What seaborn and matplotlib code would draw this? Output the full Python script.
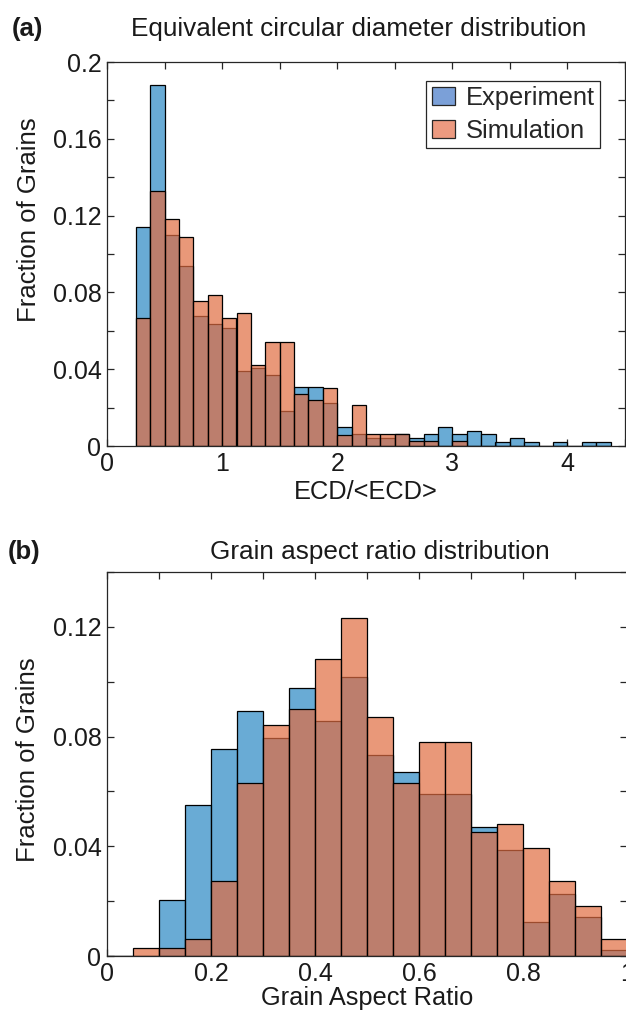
import numpy as np
import pandas as pd
import matplotlib
matplotlib.use("Agg")
import matplotlib.pyplot as plt
from matplotlib.patches import Patch
from matplotlib.ticker import MultipleLocator, FuncFormatter
import seaborn as sns

sns.set_style("ticks")
plt.rcParams["font.family"] = ["Liberation Sans", "DejaVu Sans"]

# (a) equivalent circular diameter, bins of 0.125 starting at 0.25
ecd_start = 0.25
ecd_width = 0.125
ecd_exp = [0.114, 0.188, 0.110, 0.094, 0.0676, 0.0636, 0.0613, 0.0389, 0.0406,
           0.0370, 0.0183, 0.0307, 0.0307, 0.0223, 0.0101, 0.0061, 0.0040, 0.0040,
           0.0061, 0.0040, 0.0061, 0.0101, 0.0063, 0.0080, 0.0061, 0.0021, 0.0040,
           0.0021, 0.0, 0.0021, 0.0, 0.0021, 0.0021]
ecd_sim = [0.0666, 0.1326, 0.118, 0.1086, 0.0754, 0.0786, 0.0666, 0.0693, 0.0423,
           0.0542, 0.0542, 0.0270, 0.0240, 0.0301, 0.0057, 0.0211, 0.0061, 0.0061,
           0.0061, 0.0028, 0.0028, 0.0, 0.0028, 0.0, 0.0, 0.0, 0.0,
           0.0, 0.0, 0.0, 0.0, 0.0, 0.0]

# (b) grain aspect ratio, bins of 0.05 from 0 to 1
ar_start = 0.0
ar_width = 0.05
ar_exp = [0.0, 0.0, 0.0205, 0.055, 0.0753, 0.0895, 0.0793, 0.0977, 0.0856, 0.1017,
          0.0733, 0.0672, 0.059, 0.059, 0.0469, 0.0387, 0.0124, 0.0226, 0.0144, 0.0021]
ar_sim = [0.0, 0.003, 0.003, 0.0061, 0.0272, 0.0632, 0.0843, 0.0902, 0.1083, 0.1232,
          0.0873, 0.063, 0.0781, 0.0781, 0.0451, 0.0481, 0.0393, 0.0272, 0.0182, 0.0061]

BLUE = (42 / 255, 136 / 255, 196 / 255)
ORANGE = (224 / 255, 108 / 255, 65 / 255)
SPINE = "#262626"
TEXT = "#1a1a1a"
TICK_SIZE = 18
XLABEL_SIZE = 18.3
YLABEL_SIZE = 18.5
TITLE_SIZE = 18.8


def draw_hist(ax, start, width, values, color):
    n = len(values)
    edges = start + width * np.arange(n + 1)
    df = pd.DataFrame({"center": edges[:-1] + width / 2, "frac": values})
    # bins as a plain list: seaborn compares bins == "auto" when weights are given
    sns.histplot(data=df, x="center", weights="frac", bins=edges.tolist(), ax=ax,
                 color=color, alpha=0.7, edgecolor="black", linewidth=0.9)


def style_axes(ax, xmaj, xmin, ymaj, ymin, ylab_y):
    ax.xaxis.set_major_locator(MultipleLocator(xmaj))
    ax.xaxis.set_minor_locator(MultipleLocator(xmin))
    ax.yaxis.set_major_locator(MultipleLocator(ymaj))
    ax.yaxis.set_minor_locator(MultipleLocator(ymin))
    fmt = FuncFormatter(lambda v, p: "%g" % round(v, 4))
    ax.xaxis.set_major_formatter(fmt)
    ax.yaxis.set_major_formatter(fmt)
    ax.tick_params(which="both", direction="in", top=True, right=True,
                   length=5, width=0.9, color=SPINE, labelsize=TICK_SIZE,
                   labelcolor=TEXT, pad=4)
    for s in ax.spines.values():
        s.set_visible(True)
        s.set_color(SPINE)
        s.set_linewidth(0.9)
    ax.set_ylabel("Fraction of Grains", fontsize=YLABEL_SIZE, color=TEXT)
    ax.yaxis.set_label_coords(-0.128, ylab_y)


fig = plt.figure(figsize=(6.26, 10.11), dpi=100)
ax1 = fig.add_axes([107 / 626, 1 - 446 / 1011, 518 / 626, 384 / 1011])
ax2 = fig.add_axes([107 / 626, 1 - 956 / 1011, 520 / 626, 384 / 1011])

draw_hist(ax1, ecd_start, ecd_width, ecd_exp, BLUE)
draw_hist(ax1, ecd_start, ecd_width, ecd_sim, ORANGE)
ax1.set_xlim(0, 4.5)
ax1.set_ylim(0, 0.2)
style_axes(ax1, 1, 0.5, 0.04, 0.02, 0.589)
ax1.set_xlabel("ECD/<ECD>", fontsize=XLABEL_SIZE, color=TEXT, labelpad=3)
ax1.set_title("Equivalent circular diameter distribution", fontsize=TITLE_SIZE,
              pad=18.5, color=TEXT, x=0.485)

handles = [Patch(facecolor="#7ba0d8", edgecolor=SPINE, linewidth=0.9, label="Experiment"),
           Patch(facecolor="#ec9a80", edgecolor=SPINE, linewidth=0.9, label="Simulation")]
leg = ax1.legend(handles=handles, loc="upper right", bbox_to_anchor=(0.952, 0.95),
                 borderaxespad=0, fancybox=False, framealpha=1, edgecolor=SPINE,
                 fontsize=18.4, handlelength=0.9, handleheight=0.7, handletextpad=0.45,
                 borderpad=0.2, labelspacing=0.33)
leg.get_frame().set_linewidth(0.9)

draw_hist(ax2, ar_start, ar_width, ar_exp, BLUE)
draw_hist(ax2, ar_start, ar_width, ar_sim, ORANGE)
ax2.set_xlim(0, 1)
ax2.set_ylim(0, 0.14)
style_axes(ax2, 0.2, 0.1, 0.04, 0.02, 0.51)
ax2.set_xlabel("Grain Aspect Ratio", fontsize=XLABEL_SIZE, color=TEXT, labelpad=0)
ax2.set_title("Grain aspect ratio distribution", fontsize=TITLE_SIZE, pad=9,
              color=TEXT, x=0.525)

fig.text(12 / 626, 1 - 36 / 1011, "(a)", fontsize=18.5, fontweight="bold", color=TEXT)
fig.text(8 / 626, 1 - 559 / 1011, "(b)", fontsize=18.5, fontweight="bold", color=TEXT)

fig.savefig("out.png", dpi=100)
